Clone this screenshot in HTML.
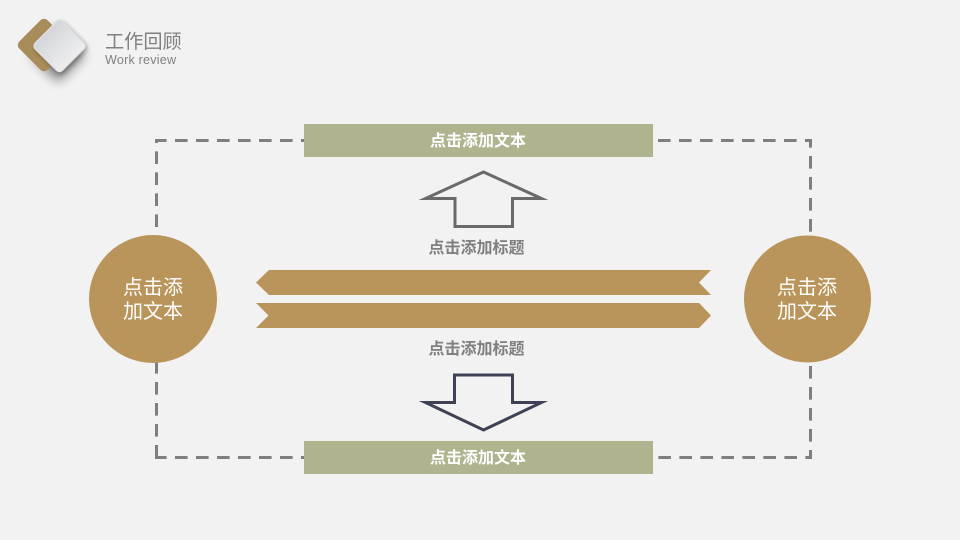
<!DOCTYPE html>
<html lang="zh">
<head>
<meta charset="utf-8">
<style>
html,body{margin:0;padding:0;background:#f2f2f2;}
svg{display:block;}
text{font-family:"Liberation Sans","Noto Sans CJK SC",sans-serif;}
</style>
</head>
<body>
<svg width="960" height="540" viewBox="0 0 960 540" xmlns="http://www.w3.org/2000/svg">
<defs>
<linearGradient id="g" x1="0" y1="0" x2="1" y2="1" gradientUnits="objectBoundingBox">
<stop offset="0" stop-color="#c9cbcf"/><stop offset="1" stop-color="#f8f8f8"/>
</linearGradient>
<filter id="s" x="-60%" y="-60%" width="220%" height="220%"><feGaussianBlur stdDeviation="5.5"/></filter>
<filter id="s2" x="-50%" y="-50%" width="200%" height="200%"><feGaussianBlur stdDeviation="2"/></filter>
</defs>
<rect width="960" height="540" fill="#f2f2f2"/>

<!-- logo -->
<rect x="-20" y="-20" width="40" height="40" rx="5" transform="translate(58,55) rotate(45)" fill="#000" opacity=".42" filter="url(#s)"/>
<rect x="-20" y="-20" width="40" height="40" rx="5" transform="translate(44,45) rotate(45)" fill="#a88c5a"/>
<rect x="-20" y="-20" width="40" height="40" rx="5" transform="translate(61,48) rotate(45)" fill="#000" opacity=".3" filter="url(#s2)"/>
<rect x="-20" y="-20" width="40" height="40" rx="5" transform="translate(59.5,46) rotate(45)" fill="#dfe0e2"/>
<polygon points="59.5,21 84,46 59.5,71 35,46" fill="url(#g)" stroke="url(#g)" stroke-width="2" stroke-linejoin="round"/>

<text x="105" y="48" font-size="19.2" fill="#808080">工作回顾</text>
<text x="105" y="64" font-size="12.6" letter-spacing=".2" fill="#808080">Work review</text>

<!-- dashed connectors -->
<g fill="none" stroke="#7f7f7f" stroke-width="3" stroke-dasharray="12.6 8.4">
<path d="M156.5 227V140.5H304"/>
<path d="M658 140.5H810.5V232"/>
<path d="M156.5 361V458"/>
<path d="M155 457.5H304" stroke-dashoffset="1"/>
<path d="M810.5 366V457.5H658"/>
</g>

<!-- bars -->
<rect x="304" y="124" width="349" height="33" fill="#afb48f"/>
<rect x="304" y="441" width="349" height="33" fill="#afb48f"/>
<text x="478" y="146" font-size="16" font-weight="700" fill="#fff" text-anchor="middle">点击添加文本</text>
<text x="478" y="463" font-size="16" font-weight="700" fill="#fff" text-anchor="middle">点击添加文本</text>

<!-- circles -->
<circle cx="153" cy="299" r="64" fill="#b9955b"/>
<circle cx="807.5" cy="299" r="63.5" fill="#b9955b"/>
<g font-size="20" fill="#fff" text-anchor="middle">
<text x="153" y="294">点击添</text>
<text x="153" y="318">加文本</text>
<text x="807" y="294">点击添</text>
<text x="807" y="318">加文本</text>
</g>

<!-- ribbons -->
<polygon points="256,282.5 269,270 711,270 699,282.5 711,295 269,295" fill="#b9955b"/>
<polygon points="256,303 699,303 711,315.5 699,328 256,328 268.5,315.5" fill="#b9955b"/>

<!-- arrows -->
<polygon points="483.5,172 541.5,198.5 512.5,198.5 512.5,226.5 455,226.5 455,198.5 425.5,198.5" fill="none" stroke="#6a6a6a" stroke-width="3" stroke-miterlimit="10"/>
<polygon points="483.5,430 541.5,402.5 512.5,402.5 512.5,375 454.5,375 454.5,402.5 425.5,402.5" fill="none" stroke="#3f4156" stroke-width="3" stroke-miterlimit="10"/>

<text x="476.5" y="253" font-size="16" font-weight="700" fill="#7f7f7f" text-anchor="middle">点击添加标题</text>
<text x="476.5" y="354" font-size="16" font-weight="700" fill="#7f7f7f" text-anchor="middle">点击添加标题</text>
</svg>
</body>
</html>
